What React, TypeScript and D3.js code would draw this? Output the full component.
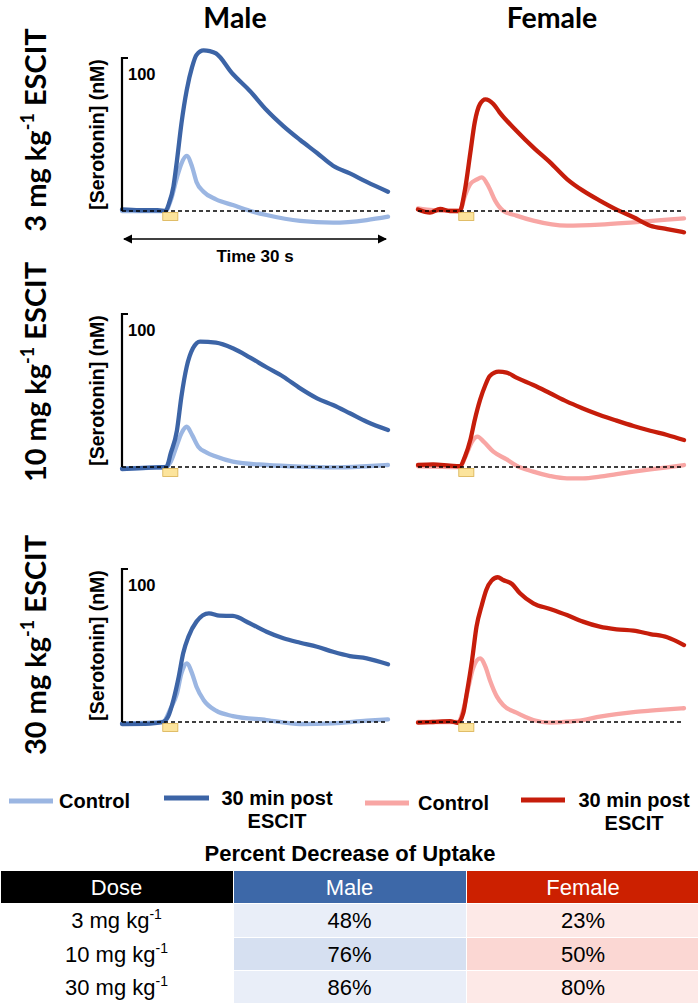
import React from "react";
import * as d3 from "d3";

// ---------- DATA ----------
// time (s) vs [5-HT] (nM) samples
const male3Control: [number, number][] = [[0,0],[2,0],[4.9,0],[5.5,7],[6.2,22],[6.7,31],[7.3,36],[7.9,29],[8.4,19],[9.2,12.6],[10.6,7.6],[12.5,3.9],[14.4,0.2],[16.3,-2.6],[20.1,-6.5],[23.8,-7.6],[27.6,-5.9],[30,-3.7]];
const male3Post: [number, number][] = [[0,1],[2,0.5],[4,0.5],[4.9,0],[5.3,5],[5.8,16],[6.2,33],[6.7,57],[7.3,79],[7.9,94],[8.4,102],[9.2,105],[9.9,104.5],[10.6,103],[12.5,89.5],[14.4,78.6],[16.3,66],[18.2,55.5],[20.1,46.4],[22,37.9],[23.8,29.6],[25.7,24.6],[27.6,19],[30,12.6]];
const female3Control: [number, number][] = [[0,1.7],[1.7,0.5],[4.7,0],[5.3,10],[5.9,17.6],[6.6,20.5],[7.2,22],[8,15.5],[8.7,6.8],[9.6,0.2],[11.1,-3],[13,-6.3],[16.8,-9.6],[20.5,-8.9],[24.3,-7.4],[28.1,-5.7],[30,-4.8]];
const female3Post: [number, number][] = [[0,1],[1.35,-1],[2.5,1.3],[3.6,0],[4.7,0],[5.3,14],[5.9,38],[6.4,58],[7,70],[7.6,73],[8.5,70],[9.2,64.5],[11.1,52.5],[13,41.6],[14.9,31.8],[16.8,20.9],[18.6,13.3],[20.5,6.8],[22.4,0.9],[24.3,-4.1],[26.2,-9.6],[28.1,-11.8],[30,-13.9]];

const male10Control: [number, number][] = [[0,-1],[3,-0.5],[4.9,0],[5.5,3.5],[6.2,14.4],[6.7,22],[7.3,26.3],[7.9,21],[8.6,13.3],[9.5,9.6],[10.6,6.8],[12.5,3.5],[16.3,1.3],[20.1,0.2],[23.8,-0.3],[27.6,0.5],[30,1.3]];
const male10Post: [number, number][] = [[0,-1.3],[3.2,-0.4],[5,0],[5.5,9],[6.2,24],[6.7,46],[7.3,65.6],[8,77.6],[8.8,82],[10.6,81.3],[12.5,77.6],[14.4,71.7],[16.3,65.2],[18.2,59],[20.1,51.4],[22,44.9],[23.8,40.5],[25.7,35.1],[27.6,29.6],[30,24.2]];
const female10Control: [number, number][] = [[0,0.5],[4.7,0],[5.5,9],[6.1,16.6],[6.7,19.8],[7.4,16.6],[8.5,10],[10,5],[11.1,0.9],[13,-3],[14.9,-5.9],[16.8,-7.4],[18.6,-7.4],[20.5,-6.3],[22.4,-4.6],[24.3,-3],[26.2,-1.5],[28.1,-0.2],[30,1.3]];
const female10Post: [number, number][] = [[0,1.3],[1.7,1.7],[3.6,0.9],[4.7,0.5],[5.3,6.8],[5.9,17.6],[6.4,30.7],[7,43.8],[7.6,53.6],[8.1,59.5],[9.1,62.3],[10,61.7],[11.1,58.4],[13,53.6],[14.9,48.2],[16.8,42.7],[18.6,38.3],[20.5,34],[22.4,30.3],[24.3,26.8],[26.2,23.7],[28.1,20.9],[30,17.6]];

const male30Control: [number, number][] = [[0,-1],[4.6,0],[5.5,9],[6.2,18.7],[6.7,31.8],[7.3,38.3],[7.9,31.8],[8.4,23],[9.2,14.4],[10.6,7.4],[12.5,3.9],[16.3,1.3],[20.1,-1.3],[23.8,-0.9],[27.6,0.9],[30,1.7]];
const male30Post: [number, number][] = [[0,-1.3],[3.2,-1],[4.6,0],[5.2,3.5],[5.8,14.4],[6.4,29.6],[6.9,44.9],[7.5,55.8],[8.4,65.6],[9.8,71],[11,69.5],[12.5,69.3],[14.4,64.5],[16.3,59],[18.2,54.7],[20.1,51.8],[22,49.2],[23.8,45.9],[25.7,43.1],[27.6,41.6],[30,37.7]];
const female30Control: [number, number][] = [[0,0],[4.5,0],[5.1,7.8],[5.7,23],[6.2,35],[7,41.6],[7.6,36.2],[8.1,27.5],[8.9,16.6],[9.6,11.1],[11.1,6.1],[13,1.3],[14.9,-0.4],[16.8,0.2],[18.6,1.3],[20.5,3.5],[22.4,5.2],[24.3,6.5],[26.2,7.4],[28.1,8.3],[30,9]];
const female30Post: [number, number][] = [[0,-0.4],[1.7,0],[3.6,0.5],[4.5,-0.5],[5.1,5.7],[5.5,18.7],[6.1,40.5],[6.6,62.3],[7.2,76.5],[7.7,86.3],[8.3,92.4],[9,94.6],[9.6,92.8],[10.6,90.2],[11.5,84.1],[13,77.6],[14.9,73.9],[16.8,69.9],[18.6,65.6],[20.5,62.3],[22.4,60.6],[24.3,59.7],[26.2,57.5],[28.1,55.4],[30,50.3]];

const doseLabels = ["3", "10", "30"];
const sexes = ["Male", "Female"];
const stimWindow = [4.6, 6.3];
const timeDomain = [0, 30];
const scaleBarValue = 100;

const tableDose = ["3", "10", "30"];
const tableMale = ["48%", "76%", "86%"];
const tableFemale = ["23%", "50%", "80%"];

// ---------- STYLE ----------
const C = {
  maleCtl: "#9BB6E2",
  malePost: "#3C64A6",
  femCtl: "#F8A6A4",
  femPost: "#C61D0B",
  hdrMale: "#3D68A8",
  hdrFem: "#CC2000",
  rowMaleA: "#E9EEF8",
  rowMaleB: "#D6E0F1",
  rowFemA: "#FDE9E7",
  rowFemB: "#FBD7D3",
};
const ARIAL = "'Liberation Sans', Arial, sans-serif";
const CAL = "Lato, 'Open Sans', sans-serif";

const W = 700, H = 1005;
const plotX0 = [122, 418];
const plotW = 266;
const baselines = [211, 467, 722];
const px100 = 153;

export default function App() {
  const series = [
    [[male3Control, male3Post], [female3Control, female3Post]],
    [[male10Control, male10Post], [female10Control, female10Post]],
    [[male30Control, male30Post], [female30Control, female30Post]],
  ];
  const colors = [[C.maleCtl, C.malePost], [C.femCtl, C.femPost]];

  const panels: React.ReactNode[] = [];
  baselines.forEach((base, r) => {
    const y = d3.scaleLinear().domain([0, scaleBarValue]).range([base, base - px100]);
    sexes.forEach((_, s) => {
      const x = d3.scaleLinear().domain(timeDomain).range([plotX0[s], plotX0[s] + plotW]);
      const line = d3.line<[number, number]>().x(d => x(d[0])).y(d => y(d[1])).curve(d3.curveMonotoneX);
      const [ctl, post] = series[r][s];
      panels.push(
        <g key={`p${r}${s}`}>
          <path d={line(ctl) || ""} fill="none" stroke={colors[s][0]} strokeWidth={4.3} strokeLinejoin="round" strokeLinecap="round" />
          <path d={line(post) || ""} fill="none" stroke={colors[s][1]} strokeWidth={4.3} strokeLinejoin="round" strokeLinecap="round" />
          <line x1={x(0)} x2={x(30)} y1={y(0)} y2={y(0)} stroke="#000" strokeWidth={1.4} strokeDasharray="4,3" />
          <rect x={x(stimWindow[0])} y={y(0) + 1.5} width={x(stimWindow[1]) - x(stimWindow[0])} height={8} fill="#FCE49C" stroke="#D9B050" strokeWidth={0.8} />
          {s === 0 && (
            <g>
              <path d={`M${x(0) + 6},${y(scaleBarValue)} H${x(0)} V${y(0)}`} fill="none" stroke="#000" strokeWidth={2.2} />
              <text x={x(0) + 6} y={y(scaleBarValue) + 22} fontFamily={ARIAL} fontWeight="bold" fontSize={16.5}>100</text>
              <text transform={`translate(97,${y(scaleBarValue / 2)}) rotate(-90)`} textAnchor="middle" dominantBaseline="central" fontFamily={ARIAL} fontWeight="bold" fontSize={19.5}>[Serotonin] (nM)</text>
            </g>
          )}
          {s === 0 && r === 0 && (
            <g>
              <line x1={x(0) + 2} x2={x(30) - 2} y1={239} y2={239} stroke="#000" strokeWidth={1.6} />
              <path d={`M${x(0) + 1},239 l9,-4.5 v9 z M${x(30) - 1},239 l-9,-4.5 v9 z`} fill="#000" />
              <text x={(x(0) + x(30)) / 2} y={262} textAnchor="middle" fontFamily={ARIAL} fontWeight="bold" fontSize={17}>Time 30 s</text>
            </g>
          )}
        </g>
      );
    });
  });

  const rowLabelCY = [130, 372, 645];

  // legend items
  const legend = [
    { x1: 9, x2: 53, y: 801, color: C.maleCtl, lines: ["Control"], tx: 59, anchor: "start" },
    { x1: 164, x2: 209, y: 798, color: C.malePost, lines: ["30 min post", "ESCIT"], tx: 277, anchor: "middle" },
    { x1: 365, x2: 409, y: 803, color: C.femCtl, lines: ["Control"], tx: 418, anchor: "start" },
    { x1: 521, x2: 565, y: 800, color: C.femPost, lines: ["30 min post", "ESCIT"], tx: 634, anchor: "middle" },
  ];

  const colX = [0, 233, 466, 700];
  const hdrY = 871, hdrH = 32;
  const rowY = [903, 937, 970, 1003];

  return (
    <svg width={W} height={H} style={{ position: "absolute", left: 0, top: 0, background: "#fff" }}>
      <rect width={W} height={H} fill="#fff" />
      <text x={235} y={28} textAnchor="middle" fontFamily={CAL} fontWeight="bold" fontSize={28.5}>{sexes[0]}</text>
      <text x={552} y={28} textAnchor="middle" fontFamily={CAL} fontWeight="bold" fontSize={28.5}>{sexes[1]}</text>
      {doseLabels.map((d, i) => (
        <text key={d} transform={`translate(46,${rowLabelCY[i]}) rotate(-90)`} textAnchor="middle" fontFamily={CAL} fontWeight="bold" fontSize={29}>
          {`${d} mg kg`}
          <tspan fontSize={18} dy={-12}>-1</tspan>
          <tspan dy={12}>{" ESCIT"}</tspan>
        </text>
      ))}
      {panels}

      {legend.map((l, i) => (
        <g key={i}>
          <line x1={l.x1} x2={l.x2} y1={l.y} y2={l.y} stroke={l.color} strokeWidth={5} />
          {l.lines.map((t, j) => (
            <text key={j} x={l.tx} y={l.y + 7 + j * 23} textAnchor={l.anchor as any} fontFamily={ARIAL} fontWeight="bold" fontSize={20}>{t}</text>
          ))}
        </g>
      ))}

      <text x={350} y={861} textAnchor="middle" fontFamily={ARIAL} fontWeight="bold" fontSize={22}>Percent Decrease of Uptake</text>

      {/* table header */}
      <rect x={colX[0] + 1} y={hdrY} width={colX[1] - colX[0] - 1} height={hdrH} fill="#000" />
      <rect x={colX[1] + 1} y={hdrY} width={colX[2] - colX[1] - 1} height={hdrH} fill={C.hdrMale} />
      <rect x={colX[2] + 1} y={hdrY} width={colX[3] - colX[2] - 3} height={hdrH} fill={C.hdrFem} />
      {["Dose", "Male", "Female"].map((h, i) => (
        <text key={h} x={(colX[i] + colX[i + 1]) / 2} y={hdrY + hdrH / 2 + 8} textAnchor="middle" fill="#fff" fontFamily={ARIAL} fontSize={22}>{h}</text>
      ))}
      {tableDose.map((d, i) => {
        const y0 = rowY[i] + 1, h = rowY[i + 1] - rowY[i] - 1;
        const cy = (rowY[i] + rowY[i + 1]) / 2 + 8;
        return (
          <g key={d}>
            <rect x={colX[1] + 1} y={y0} width={colX[2] - colX[1] - 1} height={h} fill={i === 1 ? C.rowMaleB : C.rowMaleA} />
            <rect x={colX[2] + 1} y={y0} width={colX[3] - colX[2] - 3} height={h} fill={i === 1 ? C.rowFemB : C.rowFemA} />
            <text x={(colX[0] + colX[1]) / 2} y={cy} textAnchor="middle" fontFamily={ARIAL} fontSize={22}>
              {`${d} mg kg`}
              <tspan fontSize={14} dy={-9}>-1</tspan>
            </text>
            <text x={(colX[1] + colX[2]) / 2} y={cy} textAnchor="middle" fontFamily={ARIAL} fontSize={22}>{tableMale[i]}</text>
            <text x={(colX[2] + colX[3]) / 2} y={cy} textAnchor="middle" fontFamily={ARIAL} fontSize={22}>{tableFemale[i]}</text>
          </g>
        );
      })}
    </svg>
  );
}
